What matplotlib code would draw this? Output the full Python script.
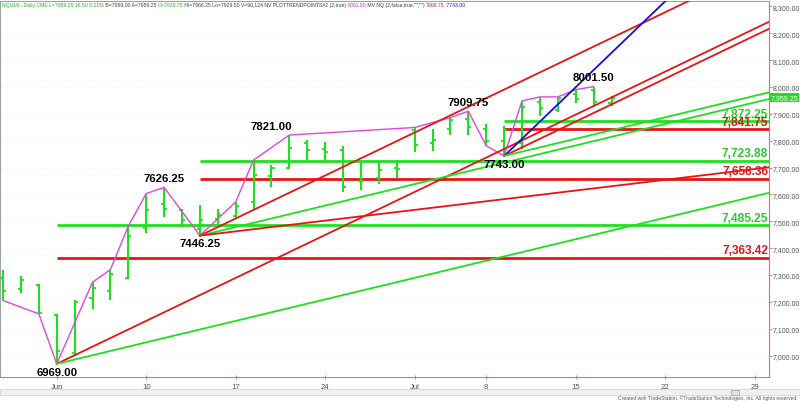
import numpy as np
import pandas as pd
import matplotlib
matplotlib.use("Agg")
import matplotlib.pyplot as plt
from matplotlib import font_manager
from matplotlib.patches import Rectangle

plt.rcParams["font.family"] = ["Liberation Sans", "DejaVu Sans"]
installed = {f.name for f in font_manager.fontManager.ttflist}
narrow = "Liberation Sans Narrow" if "Liberation Sans Narrow" in installed else "Liberation Sans"

# trading days shown on the chart (Jul 4 closed)
days = pd.bdate_range("2019-05-29", "2019-07-31")
days = days[days != pd.Timestamp("2019-07-04")]

# daily OHLC, May 29 .. Jul 17 2019 (NQU19)
opens = [7290, 7248, 7262, 7150, 7010, 7213, 7239, 7290, 7475, 7565, 7540, 7470,
         7510, 7520, 7572, 7670, 7700, 7790, 7770, 7765, 7650, 7660, 7700,
         7840, 7790, 7843, 7880, 7845, 7800, 7790, 7945, 7915, 7975, 7990, 7939.75]
highs = [7317, 7295, 7267, 7155, 7205, 7273, 7320, 7482, 7603, 7626.25, 7547, 7562,
         7547, 7572, 7728, 7711, 7821, 7802, 7796, 7781, 7728, 7719, 7728,
         7849, 7843, 7886, 7909.75, 7862, 7855, 7948, 7963, 7963, 7990, 8001.5, 7966.25]
lows = [7205, 7232, 7155, 6969, 7000, 7172, 7205, 7286, 7457, 7516, 7487, 7446.25,
        7487, 7510, 7547, 7628, 7696, 7728, 7728, 7609, 7616, 7638, 7662,
        7759, 7761, 7820, 7820, 7781, 7743, 7768, 7893, 7907, 7939, 7924, 7929.5]
closes = [7240, 7280, 7160, 7015, 7200, 7251, 7305, 7445, 7541, 7547, 7503, 7503,
          7525, 7557, 7672, 7700, 7771, 7765, 7759, 7628, 7649, 7690, 7694,
          7784, 7802, 7876, 7849, 7799, 7840, 7927, 7921, 7958, 7955, 7942.75, 7959.25]

# swing line (PLOTTRENDPOINTS) vertices: bar number, price
zz_bar = [0, 2, 3, 5, 6, 7, 8, 9, 11, 13, 14, 16, 23, 25, 26, 27, 28, 29, 30, 31, 32, 33]
zz_price = [7205, 7155, 6969, 7273, 7320, 7482, 7603, 7626.25, 7446.25, 7572, 7728,
            7821, 7849, 7886, 7909.75, 7781, 7743, 7948, 7963, 7963, 7990, 8001.5]

# labelled swing highs / lows
hi_bar = [9, 16, 26, 33]
hi_price = [7626.25, 7821.00, 7909.75, 8001.50]
lo_bar = [3, 11, 28]
lo_price = [6969.00, 7446.25, 7743.00]

# Gann angles: pivot bar, pivot price, points per bar
fan_bar = [3, 3, 11, 11, 11, 28, 28, 28]
fan_price = [6969.00, 6969.00, 7446.25, 7446.25, 7446.25, 7743.00, 7743.00, 7743.00]
fan_rate = [32, 16, 32, 16, 8, 64, 32, 16]

# 50% / 61.8% retracement levels and the bar they start at
ret_level = [7485.25, 7363.42, 7723.88, 7658.36, 7872.25, 7841.75]
ret_start = [3, 3, 11, 11, 28, 28]

last_price = 7959.25

GREEN = "#1fe01f"
RED = "#e81414"
fan_colors = {64: "#1010d8", 32: RED, 16: GREEN, 8: RED}
ret_colors = [GREEN, RED, GREEN, RED, GREEN, RED]
lbl_colors = ["#2ec92e", "#e01818", "#2ec92e", "#e01818", "#2ec92e", "#e01818"]

fig = plt.figure(figsize=(8, 4.02), dpi=100)
ax = fig.add_axes([0.0, 1 - 378 / 402, 769 / 800, 376 / 402])
xmin, xmax = -0.17, 42.8
ax.set_xlim(xmin, xmax)
ax.set_ylim(6920, 8320)

# faint price grid
for lvl in np.arange(7000, 8301, 100):
    ax.axhline(lvl, color="#e4e4e4", lw=0.5, ls=(0, (1, 2)), zorder=0)

x = np.arange(len(opens))
ax.vlines(x, lows, highs, color=GREEN, lw=1.5, zorder=3)
ax.hlines(opens, x - 0.17, x, color=GREEN, lw=1.3, zorder=3)
ax.hlines(closes, x, x + 0.17, color=GREEN, lw=1.3, zorder=3)

ax.plot(zz_bar, zz_price, color="#e146e1", lw=1.0, zorder=4)

# retracement lines + labels
for lvl, st, c, lc in zip(ret_level, ret_start, ret_colors, lbl_colors):
    ax.hlines(lvl, st, xmax, color=c, lw=2.0, zorder=2)
    ax.annotate(f"{lvl:,.2f}", (xmax - 0.05, lvl), xytext=(0, 1.2),
                textcoords="offset points", ha="right", va="bottom",
                fontsize=8.6, fontweight="bold", color=lc, zorder=2)

# Gann angles
for b, p, r in zip(fan_bar, fan_price, fan_rate):
    xs = np.array([b, xmax])
    ax.plot(xs, p + r * (xs - b), color=fan_colors[r], lw=1.3, zorder=5)

for b, p in zip(hi_bar, hi_price):
    dx = -1.0 if p == 7821.00 else 0.0
    ax.annotate(f"{p:.2f}", (b + dx, p), xytext=(0, 3), textcoords="offset points",
                ha="center", va="bottom", fontsize=8.2, fontweight="bold", color="black", zorder=6)
for b, p in zip(lo_bar, lo_price):
    ax.annotate(f"{p:.2f}", (b, p), xytext=(0, -2), textcoords="offset points",
                ha="center", va="top", fontsize=8.2, fontweight="bold", color="black", zorder=6)

# axes cosmetics
axis_red = "#e07070"
for s in ["left", "top"]:
    ax.spines[s].set_color("#a0a0a0")
    ax.spines[s].set_linewidth(0.8)
for s in ["right", "bottom"]:
    ax.spines[s].set_color(axis_red)
    ax.spines[s].set_linewidth(0.8)

ax.yaxis.tick_right()
ax.set_yticks(np.arange(7000, 8301, 100))
ax.set_yticklabels([f"{v:,.2f}" for v in np.arange(7000, 8301, 100)], family=narrow)
ax.tick_params(axis="y", length=2.5, width=0.6, color=axis_red, labelsize=5.0,
               labelcolor="#555555", pad=0.3)

tick_pos = [i for i, d in enumerate(days) if d.weekday() == 0]
tick_lbl = [days[i].strftime("%b") if days[i].day <= 3 else str(days[i].day) for i in tick_pos]
ax.set_xticks(tick_pos)
ax.set_xticklabels(tick_lbl, family=narrow)
ax.tick_params(axis="x", length=3, width=0.6, direction="inout", color=axis_red,
               labelsize=5.6, labelcolor="#555555", pad=2.5)

# last price marker
ax.annotate(f"{last_price:,.2f}", (1, last_price), xycoords=("axes fraction", "data"),
            xytext=(1.2, 0), textcoords="offset points", ha="left", va="center",
            fontsize=5.0, color="white", family=narrow,
            bbox=dict(boxstyle="square,pad=0.15", fc="#22dd22", ec="none"),
            annotation_clip=False, zorder=7)

# header line
pieces = [
    ("NQU19 - Daily CME L=7959.25 16.50 0.21%", "#22bb22"),
    (" B=7959.00 A=7959.25 ", "#444444"),
    ("O=7939.75", "#22bb22"),
    (" Hi=7966.25 Lo=7929.50 V=90,124 NV PLOTTRENDPOINTS#2 (2,true) ", "#444444"),
    ("8001.50", "#d030d0"),
    (" MV NQ (2,false,true,\"\",\"\") ", "#444444"),
    ("7909.75", "#e01818"),
    (" 7743.00", "#2020d0"),
]
hdr_size = 4.3 if narrow != "Liberation Sans" else 3.7
renderer = fig.canvas.get_renderer()
xp = 2.0
for txt, col in pieces:
    t = fig.text(xp / 800, 1 - 5.5 / 402, txt, color=col, fontsize=hdr_size,
                 family=narrow, va="center", ha="left")
    bb = t.get_window_extent(renderer=renderer)
    xp += bb.width

# scrollbar and footer
fig.patches.append(Rectangle((0, 1 - 396 / 402), 1, 6 / 402, transform=fig.transFigure,
                             fc="#f0f0f0", ec="#d0d0d0", lw=0.5))
fig.patches.append(Rectangle((731 / 800, 1 - 396 / 402), 8 / 800, 5 / 402, transform=fig.transFigure,
                             fc="#e0e0e0", ec="#a0a0a0", lw=0.5))
fig.text(798 / 800, 1 / 402, "Created with TradeStation. \u00a9TradeStation Technologies, Inc. All rights reserved.",
         ha="right", va="bottom", fontsize=3.6, color="#555555", family=narrow)

fig.savefig("out.png", dpi=100)
